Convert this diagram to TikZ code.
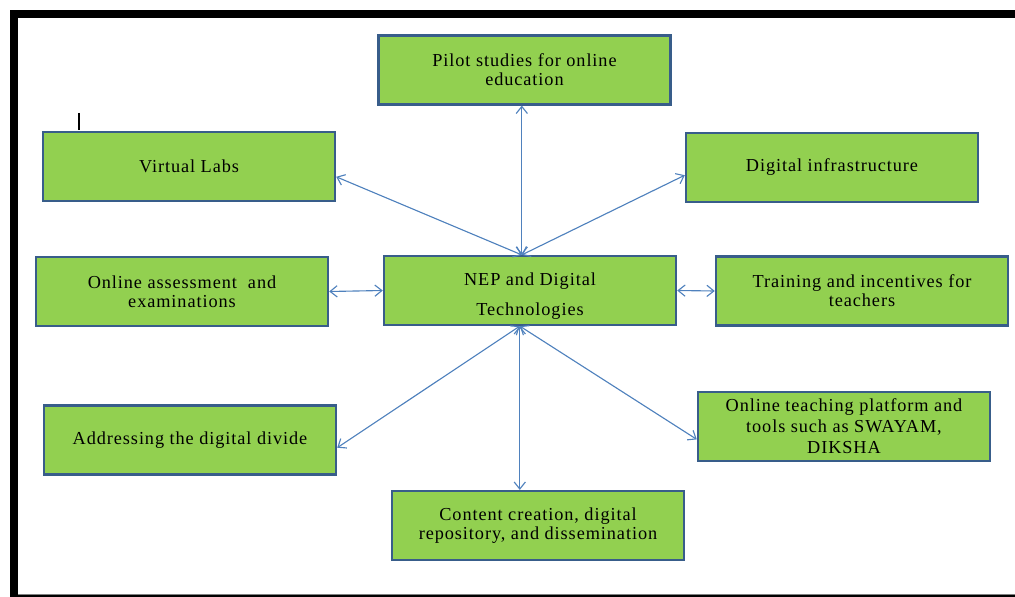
\documentclass[tikz,border=0pt]{standalone}
\usepackage{fontspec}
\setmainfont[LetterSpace=5]{Liberation Serif}
\usetikzlibrary{arrows.meta, positioning}
\definecolor{boxgreen}{RGB}{146, 208, 80}
\definecolor{boxedge}{RGB}{56, 93, 138}
\definecolor{linkblue}{RGB}{79, 129, 189}

\begin{document}
\begin{tikzpicture}[
    x=0.025cm, y=-0.025cm,
    topic/.style={draw=boxedge, line width=1.7pt, fill=boxgreen,
                  minimum width=7.3cm, minimum height=1.72cm,
                  align=center, font=\fontsize{13}{13.5}\selectfont},
    link/.style={{Straight Barb[length=5pt,width=8pt]}-{Straight Barb[length=5pt,width=8pt]},
                 draw=linkblue, line width=0.8pt}
]
    \useasboundingbox (0,0) rectangle (1015,597);

    % Page frame and stray cursor mark
    \fill (10,10) rectangle (1015,18);
    \fill (10,10) rectangle (18,597);
    \fill[gray] (18,593.5) rectangle (1015,595);
    \fill (10,595) rectangle (1015,597);
    \draw[line width=1.4pt] (79,113) -- (79,130);

    % Central topic
    \node[topic] (nep) at (530,290.5) {\rule{0pt}{17pt}NEP and Digital\\[8pt]Technologies};

    % Surrounding topics
    \node[topic] (pilot) at (524.5,70) {Pilot studies for online\\education};
    \node[topic] (vlabs) at (189,166.5) {Virtual Labs};
    \node[topic] (infra) at (832,167.5) {Digital infrastructure};
    \node[topic] (assess) at (182,291.5) {Online assessment\ \ and\\examinations};
    \node[topic] (train) at (862,291) {Training and incentives for\\teachers};
    \node[topic] (divide) at (190,440) {Addressing the digital divide};
    \node[topic] (platform) at (844,426.5) {Online teaching platform and\\[1.5pt]tools such as SWAYAM,\\[1.5pt]DIKSHA};
    \node[topic] (content) at (538,525.5) {Content creation, digital\\repository, and dissemination};

    % Meeting points on the central box
    \coordinate (ntop) at (nep.103);
    \coordinate (nbot) at (nep.-106);

    % Two-way links
    \draw[link] (ntop) -- (pilot.south -| ntop);
    \draw[link] (ntop) -- (vlabs.-4);
    \draw[link] (ntop) -- (infra.183);
    \draw[link] (nep.west) -- (assess.east);
    \draw[link] (nep.east) -- (train.west);
    \draw[link] (nbot) -- (divide.-3);
    \draw[link] (nbot) -- (platform.185);
    \draw[link] (nbot) -- (content.north -| nbot);
\end{tikzpicture}
\end{document}
